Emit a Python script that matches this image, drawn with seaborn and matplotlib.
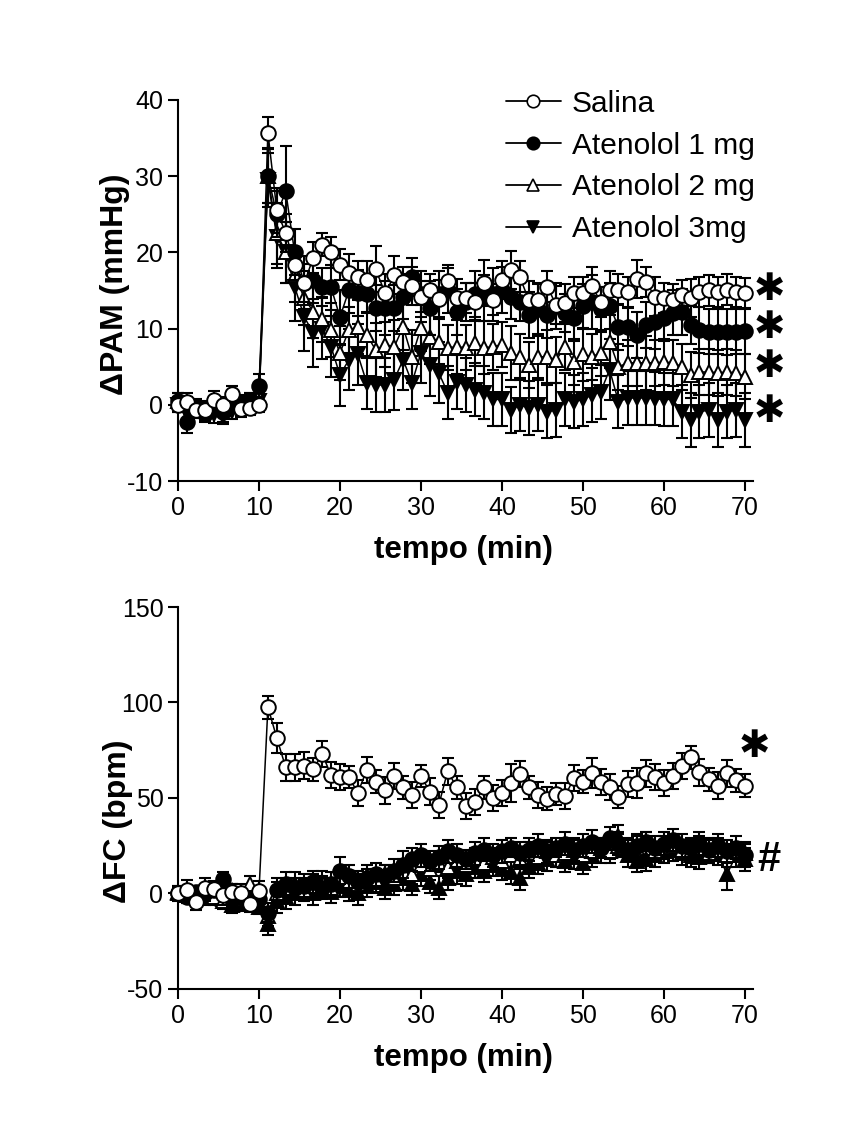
import matplotlib
matplotlib.use('Agg')

import matplotlib.pyplot as plt
from matplotlib.lines import Line2D
import seaborn as sns
import pandas as pd


# time points (min)
tempo = [0.0, 1.1, 2.2, 3.3, 4.4, 5.6, 6.7, 7.8, 8.9, 10.0,
         11.1, 12.2, 13.3, 14.4, 15.6, 16.7, 17.8, 18.9, 20.0, 21.1,
         22.2, 23.3, 24.4, 25.6, 26.7, 27.8, 28.9, 30.0, 31.1, 32.2,
         33.3, 34.4, 35.6, 36.7, 37.8, 38.9, 40.0, 41.1, 42.2, 43.3,
         44.4, 45.6, 46.7, 47.8, 48.9, 50.0, 51.1, 52.2, 53.3, 54.4,
         55.6, 56.7, 57.8, 58.9, 60.0, 61.1, 62.2, 63.3, 64.4, 65.6,
         66.7, 67.8, 68.9, 70.0]

labels = ['Salina', 'Atenolol 1 mg', 'Atenolol 2 mg', 'Atenolol 3mg']

# ---------------- delta PAM (mmHg) ----------------
pam_sal = [0, 0.4, -0.7, -0.7, 0.6, 0, 1.4, -0.6, -0.4, 0,
           35.7, 25.5, 22.5, 18.4, 16, 19.3, 21, 20, 18.4, 17.3,
           16.8, 16.4, 17.8, 14.6, 17, 16.1, 15.6, 14.2, 15.1, 13.9,
           16.3, 14, 14, 13.5, 16, 13.8, 16.4, 17.7, 16.8, 13.8,
           13.8, 15.5, 13.1, 13.4, 14.7, 14.7, 15.6, 13.5, 15.1, 15.1,
           14.8, 16.5, 16.1, 14.2, 14, 13.8, 14.4, 14, 14.8, 15,
           14.8, 15.1, 14.8, 14.6]
pam_a1 = [0.5, -2.2, -0.5, -1.2, -0.3, -1, 0, 0.3, 0.5, 2.5,
          30, 25, 28, 20, 16, 16.4, 15.4, 15.4, 11.5, 15,
          14.7, 14.5, 12.7, 12.7, 12.7, 14.2, 16.8, 14.5, 12.7, 14.5,
          15, 12.2, 13.5, 14.5, 14, 14.5, 15.1, 14.2, 13.5, 11.8,
          12.5, 11.8, 13, 12, 11.4, 12.9, 13.5, 12.5, 13, 10.2,
          10.2, 9.2, 10.5, 10.8, 11.4, 12.1, 12.2, 10.5, 9.8, 9.6,
          9.6, 9.5, 9.6, 9.7]
pam_a2 = [0.5, 0, -0.5, -0.5, 0, -0.5, 0.3, 0, 0.5, 1,
          30, 22.5, 20, 17, 14, 12.2, 11.2, 9.8, 6.8, 9.8,
          10.2, 9.2, 7.2, 7.9, 7.6, 10.2, 6.3, 10.1, 8.9, 8.3,
          7.5, 7.6, 7.5, 8.1, 7.5, 7.6, 7.9, 6.8, 6.3, 5.2,
          6.3, 6.3, 5.9, 7.6, 5.6, 6.6, 6.3, 6.8, 8.3, 5,
          5.5, 5.5, 5.5, 5.5, 5.6, 5.5, 5, 3.9, 4.3, 4.3,
          4.2, 4.3, 4.2, 3.7]
pam_a3 = [0, -1, -0.5, -1, -1.2, -1.5, -0.8, -0.5, 0, 0.5,
          29.5, 22, 20, 15.5, 11.5, 9.4, 10, 7.6, 3.9, 5.9,
          6.6, 2.9, 2.6, 2.6, 3.3, 5.9, 2.9, 6.8, 5.2, 4.2,
          1.6, 3, 2.6, 2, 1.6, 0.7, 0.7, -0.7, 0, -0.4,
          0, -0.9, -0.7, 0.7, 0.4, 0.7, 1.3, 1.7, 4.6, 0.4,
          0.9, 0.9, 0.9, 0.8, 0.7, 0.7, -0.9, -2, -0.9, -0.7,
          -2, -0.9, -0.7, -2]

sem_pam_sal = [1.0, 1.2, 1.0, 1.0, 1.2, 1.0, 1.0, 1.0, 1.0, 1.0,
               2.0, 3.0, 2.5, 2.0, 2.5, 2.0, 1.5, 2.0, 2.0, 2.5,
               2.0, 2.5, 3.0, 2.5, 2.5, 2.0, 2.5, 2.0, 2.0, 2.5,
               2.0, 2.5, 2.0, 2.5, 3.0, 2.0, 2.5, 2.5, 2.0, 2.5,
               2.0, 2.0, 2.5, 2.5, 2.0, 2.0, 2.5, 2.0, 2.5, 2.0,
               2.0, 2.5, 2.0, 2.5, 2.0, 2.0, 2.0, 2.5, 2.0, 2.0,
               2.0, 2.0, 2.0, 2.0]
sem_pam_a1 = [1.0, 1.5, 1.0, 1.0, 1.0, 1.2, 1.0, 1.0, 1.0, 1.5,
              3.5, 3.0, 6.0, 3.0, 3.5, 3.0, 2.5, 3.0, 3.5, 3.0,
              3.0, 2.5, 3.0, 3.5, 3.0, 3.0, 2.5, 3.0, 3.5, 3.0,
              3.0, 3.0, 2.5, 3.0, 3.0, 3.5, 3.0, 3.0, 2.5, 3.0,
              3.5, 3.0, 3.0, 2.5, 3.0, 3.0, 3.5, 3.0, 3.0, 3.0,
              2.5, 3.0, 3.0, 3.5, 3.0, 3.0, 3.0, 2.5, 3.0, 3.0,
              3.0, 3.0, 3.0, 3.0]
sem_pam_a2 = [1.0, 1.0, 1.2, 1.0, 1.0, 1.0, 1.2, 1.0, 1.0, 1.0,
              3.5, 4.0, 4.0, 3.5, 3.5, 3.5, 3.0, 3.5, 3.5, 3.0,
              3.5, 3.0, 3.5, 3.0, 3.5, 3.0, 3.5, 3.0, 3.5, 3.0,
              3.0, 3.5, 3.0, 3.0, 3.5, 3.0, 3.0, 3.5, 3.0, 3.0,
              3.0, 3.5, 3.0, 3.0, 3.0, 3.5, 3.0, 3.0, 3.5, 3.0,
              3.0, 3.0, 3.5, 3.0, 3.0, 3.0, 3.0, 3.0, 3.0, 3.0,
              3.0, 3.0, 3.0, 3.0]
sem_pam_a3 = [1.0, 1.2, 1.0, 1.0, 1.2, 1.0, 1.0, 1.0, 1.0, 1.0,
              3.5, 4.0, 4.0, 4.5, 4.5, 4.5, 4.0, 4.0, 4.0, 4.0,
              4.0, 3.5, 3.5, 3.5, 4.0, 4.0, 3.5, 4.0, 4.0, 4.0,
              3.5, 3.5, 3.5, 3.5, 3.5, 3.5, 3.5, 3.0, 3.5, 3.5,
              3.5, 3.5, 3.5, 3.5, 3.5, 3.5, 3.5, 3.5, 4.0, 3.5,
              3.5, 3.5, 3.5, 3.5, 3.5, 3.5, 3.5, 3.5, 3.5, 3.5,
              3.5, 3.5, 3.5, 3.5]

# ---------------- delta FC (bpm) ----------------
fc_sal = [0, 1.8, -4.5, 3, 2.4, -0.8, 0.8, 0, -5.5, 1.3,
          97.6, 81.4, 66, 66, 67, 65, 73, 62, 61, 61,
          52.6, 64.6, 58.4, 54, 61.5, 55.7, 51.6, 61.5, 53.2, 46.3,
          64, 55.7, 45.8, 47.9, 55.7, 50, 52.6, 57.8, 62.5, 55.7,
          51.6, 49.5, 52.1, 51, 60.4, 58.4, 63, 58.4, 55.7, 50.5,
          57.3, 57.8, 63, 61, 57.8, 61.5, 66.7, 71.4, 63.5, 59.7,
          56.5, 63, 59.2, 56.5]
fc_a1 = [0, -2, 1, 0, 2, 7.5, -3, -2, -4, -3,
         -10, 2, 5, 3, 4, 6, 3, 5, 12, 9,
         6, 8, 10, 9, 12, 15, 18, 20, 17, 19,
         22, 20, 18, 21, 23, 20, 22, 24, 21, 23,
         25, 22, 24, 26, 23, 25, 27, 24, 29, 26,
         23, 25, 27, 24, 26, 28, 25, 24, 26, 23,
         25, 22, 24, 20]
fc_a2 = [1, -1, 0, 1, -2, -4, 2, -3, 5, -1,
         -12, 0, 3, 5, 2, 4, 6, 3, 8, 6,
         5, 9, 7, 10, 8, 12, 10, 15, 13, 16,
         14, 17, 15, 18, 16, 19, 17, 20, 18, 21,
         19, 22, 20, 21, 23, 20, 22, 24, 22, 25,
         23, 24, 26, 22, 24, 25, 23, 22, 24, 21,
         23, 20, 22, 21]
fc_a3 = [0, -1, 0, -2, -1, -3, -6, -5, -4, -7,
         -16, -4, -2, 0, 2, 0, 3, 1, 4, 2,
         0, 4, 6, 3, 5, 8, 5, 10, 6, 3,
         8, 12, 10, 14, 12, 15, 13, 11, 8, 14,
         16, 18, 20, 17, 19, 16, 20, 22, 24, 30,
         20, 17, 18, 20, 22, 23, 21, 20, 19, 22,
         21, 10, 20, 18]

sem_fc_sal = [4, 5, 4, 5, 4, 5, 4, 5, 4, 5,
              6, 8, 7, 7, 7, 6, 7, 7, 7, 6,
              7, 7, 6, 7, 7, 6, 7, 6, 7, 7,
              7, 6, 7, 7, 6, 7, 7, 10, 7, 6,
              7, 6, 6, 7, 7, 6, 8, 7, 7, 6,
              7, 8, 7, 7, 7, 7, 7, 6, 7, 6,
              7, 7, 6, 6]
sem_fc_a1 = [3, 3, 3, 4, 3, 4, 4, 3, 4, 4,
             5, 6, 6, 5, 6, 6, 5, 6, 7, 6,
             6, 5, 6, 6, 6, 7, 6, 6, 5, 6,
             6, 6, 5, 6, 6, 6, 6, 5, 6, 6,
             6, 6, 5, 6, 6, 6, 6, 5, 6, 6,
             6, 6, 5, 6, 6, 6, 6, 5, 6, 6,
             6, 6, 6, 6]
sem_fc_a2 = [3, 3, 4, 3, 4, 4, 3, 4, 4, 3,
             5, 6, 5, 6, 5, 6, 6, 5, 6, 6,
             5, 6, 6, 5, 6, 6, 5, 6, 6, 5,
             6, 6, 5, 6, 6, 5, 6, 6, 5, 6,
             6, 5, 6, 6, 5, 6, 6, 5, 6, 6,
             5, 6, 6, 5, 6, 6, 5, 6, 6, 5,
             6, 6, 5, 6]
sem_fc_a3 = [3, 4, 3, 4, 3, 4, 4, 4, 4, 4,
             6, 6, 6, 6, 6, 6, 6, 6, 6, 6,
             6, 6, 6, 6, 6, 6, 6, 6, 6, 6,
             6, 7, 6, 6, 6, 6, 6, 6, 6, 6,
             6, 6, 6, 6, 6, 6, 6, 6, 6, 6,
             6, 6, 6, 6, 6, 6, 6, 6, 6, 6,
             6, 8, 6, 6]

sns.set_theme(style="ticks")
plt.rcParams['font.family'] = ['Liberation Sans', 'DejaVu Sans']
plt.rcParams['axes.unicode_minus'] = False
for key in ['text.color', 'axes.labelcolor', 'xtick.color', 'ytick.color',
            'axes.edgecolor']:
    plt.rcParams[key] = 'black'

# marker style per series (top / bottom)
styles_pam = [dict(marker='o', markerfacecolor='white'),
              dict(marker='o', markerfacecolor='black'),
              dict(marker='^', markerfacecolor='white'),
              dict(marker='v', markerfacecolor='black')]
styles_fc = [dict(marker='o', markerfacecolor='white'),
             dict(marker='o', markerfacecolor='black'),
             dict(marker='^', markerfacecolor='white'),
             dict(marker='^', markerfacecolor='black')]

fig = plt.figure(figsize=(8.58, 11.31), dpi=100)
ax1 = fig.add_axes([0.2075, 0.5747, 0.670, 0.337])
ax2 = fig.add_axes([0.2075, 0.1256, 0.670, 0.3377])


def draw_panel(ax, series, sems, styles):
    df = pd.DataFrame({'tempo': tempo})
    for lab, vals in zip(labels, series):
        df[lab] = vals
    # draw later series first so that Salina sits on top
    for k in [3, 2, 1, 0]:
        lab = labels[k]
        z = 3 + (3 - k) * 2
        ax.errorbar(df['tempo'], df[lab], yerr=sems[k], fmt='none',
                    ecolor='black', elinewidth=1.5, capsize=4.3,
                    capthick=1.5, zorder=z, clip_on=False)
        sns.lineplot(data=df, x='tempo', y=lab, ax=ax, color='black',
                     linewidth=1.1, markersize=10.5, markeredgecolor='black',
                     markeredgewidth=1.4, clip_on=False, zorder=z + 1,
                     errorbar=None, legend=False, **styles[k])


draw_panel(ax1, [pam_sal, pam_a1, pam_a2, pam_a3],
           [sem_pam_sal, sem_pam_a1, sem_pam_a2, sem_pam_a3], styles_pam)
draw_panel(ax2, [fc_sal, fc_a1, fc_a2, fc_a3],
           [sem_fc_sal, sem_fc_a1, sem_fc_a2, sem_fc_a3], styles_fc)

for ax, ylim, yticks, ylab, lx, ly in [
        (ax1, (-10, 40), [-10, 0, 10, 20, 30, 40], '\u0394PAM (mmHg)', -0.084, 0.515),
        (ax2, (-50, 150), [-50, 0, 50, 100, 150], '\u0394FC (bpm)', -0.078, 0.44)]:
    ax.set_xlim(0, 71)
    ax.set_ylim(*ylim)
    ax.set_xticks([0, 10, 20, 30, 40, 50, 60, 70])
    ax.set_yticks(yticks)
    sns.despine(ax=ax)
    for sp in ['left', 'bottom']:
        ax.spines[sp].set_linewidth(1.5)
    ax.tick_params(axis='both', labelsize=18, length=7, width=1.5,
                   direction='out')
    ax.set_xlabel('tempo (min)', fontsize=22.5, fontweight='bold')
    ax.set_ylabel(ylab, fontsize=23, fontweight='bold')
    ax.xaxis.set_label_coords(0.497, -0.142)
    ax.yaxis.set_label_coords(lx, ly)
    ax.set_facecolor('white')

# legend
handles = []
for st in styles_pam:
    handles.append(Line2D([], [], color='black', linewidth=1.3,
                          markersize=9, markeredgecolor='black',
                          markeredgewidth=1.2, **st))
ax1.legend(handles, labels, loc='upper left', bbox_to_anchor=(0.523, 1.097),
           frameon=False, fontsize=21.5, handlelength=1.85,
           handletextpad=0.37, labelspacing=0.46)

# significance marks
star_kw = dict(fontsize=27, fontweight='bold', ha='center', va='center',
               family=['DejaVu Sans'], clip_on=False)
for y in [15.1, 10.1, 5.0, -0.9]:
    ax1.text(73.0, y, '\u2731', **star_kw)
ax2.text(71.2, 76.7, '\u2731', **star_kw)
ax2.text(73.0, 17.5, '#', fontsize=30, fontweight='bold', ha='center',
         va='center', clip_on=False)

plt.savefig('out.png', dpi=100, facecolor='white')
plt.close()
